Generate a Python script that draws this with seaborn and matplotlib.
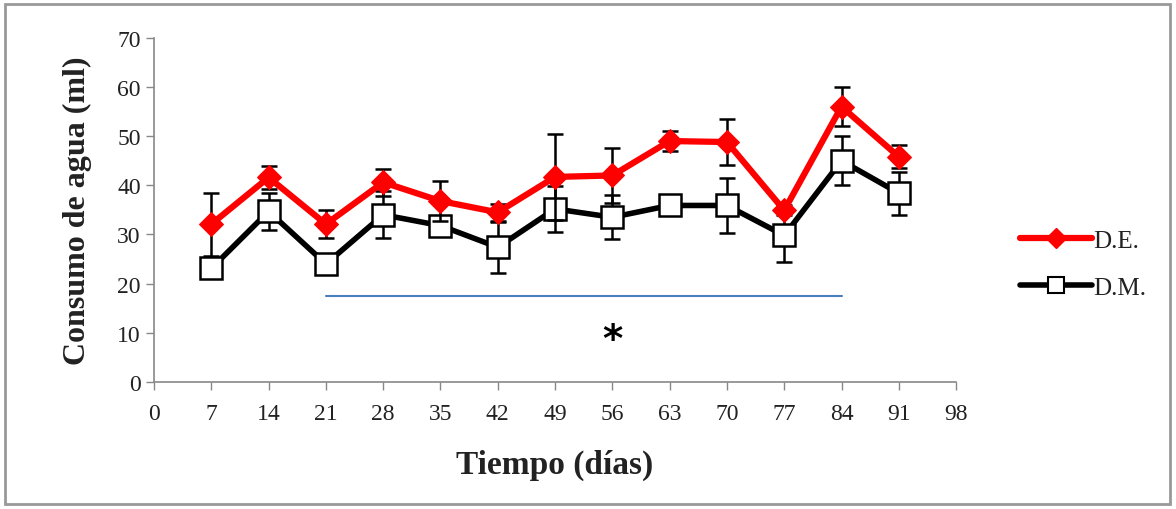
import matplotlib
matplotlib.use("Agg")
import matplotlib.pyplot as plt
import seaborn as sns
import pandas as pd
from matplotlib.patches import Rectangle
from matplotlib.lines import Line2D

days = [7, 14, 21, 28, 35, 42, 49, 56, 63, 70, 77, 84, 91]
de_mean = [32.1, 41.6, 32.1, 40.6, 36.8, 34.5, 41.7, 42.0, 49.0, 48.8, 34.9, 56.0, 45.8]
de_err = [6.4, 2.4, 2.8, 2.7, 4.1, 1.7, 8.8, 5.5, 2.1, 4.7, 1.0, 4.0, 2.3]
dm_mean = [23.1, 34.7, 24.0, 34.0, 31.8, 27.4, 35.2, 33.5, 35.9, 35.9, 29.8, 45.0, 38.4]
dm_err = [2.0, 3.7, 1.0, 4.8, 1.0, 5.2, 4.6, 4.5, 1.0, 5.5, 5.4, 5.0, 4.4]
x_ticks = list(range(0, 99, 7))
y_ticks = list(range(0, 71, 10))
bar_x = [21, 84]
bar_y = [17.5, 17.5]

sns.set_theme(style="white")
plt.rcParams['font.family'] = ['Liberation Serif', 'DejaVu Serif']

fig = plt.figure(figsize=(11.76, 5.10), dpi=100)
ax = fig.add_axes([0.131, 0.249, 0.682, 0.675])

df = pd.DataFrame({
    "day": days * 2,
    "val": dm_mean + de_mean,
    "grp": ["D.M."] * len(days) + ["D.E."] * len(days),
})

ax.errorbar(days, dm_mean, yerr=dm_err, fmt='none', ecolor='black',
            elinewidth=1.8, capsize=6, capthick=1.8, zorder=2)
sns.lineplot(data=df[df.grp == "D.M."], x="day", y="val", ax=ax, color='black',
             lw=4, marker='s', markersize=16, markerfacecolor='white',
             markeredgecolor='black', markeredgewidth=1.8, zorder=3, legend=False)
ax.errorbar(days, de_mean, yerr=de_err, fmt='none', ecolor='black',
            elinewidth=1.8, capsize=6, capthick=1.8, zorder=4)
sns.lineplot(data=df[df.grp == "D.E."], x="day", y="val", ax=ax, color='#ff0000',
             lw=4.5, marker='D', markersize=12.5, markerfacecolor='#ff0000',
             markeredgecolor='#ff0000', zorder=5, legend=False)

ax.plot(bar_x, bar_y, color='#4a7ebf', lw=1.5, zorder=1)
ax.text(56, 8.6, "*", fontsize=28, fontweight='bold', ha='center', va='center',
        family='DejaVu Sans', color='black')

ax.set_xlim(0, 98)
ax.set_ylim(0, 70)
ax.set_xticks(x_ticks)
ax.set_yticks(y_ticks)
ax.tick_params(axis='both', labelsize=17, length=6, width=1, color='#888888',
               direction='out', bottom=True, left=True, labelcolor='#222222')
ax.tick_params(axis='x', pad=9)
for s in ['top', 'right']:
    ax.spines[s].set_visible(False)
for s in ['left', 'bottom']:
    ax.spines[s].set_color('#888888')
    ax.spines[s].set_linewidth(1.2)

ax.set_xlabel("Tiempo (días)", fontsize=24, fontweight='bold', labelpad=18, color='#222222')
ax.set_ylabel("Consumo de agua (ml)", fontsize=23, fontweight='bold', labelpad=18, color='#222222')

h1 = Line2D([], [], color='#ff0000', lw=4.5, marker='D', markersize=10)
h2 = Line2D([], [], color='black', lw=4, marker='s', markersize=12,
            markerfacecolor='white', markeredgewidth=1.5)
fig.legend([h1, h2], ["D.E.", "D.M."], loc='center left',
           bbox_to_anchor=(0.848, 0.48), frameon=False, fontsize=18,
           handlelength=2.9, handletextpad=0.05, labelspacing=1.0,
           labelcolor='#222222')

fig.patches.append(Rectangle((0.004, 0.01), 0.991, 0.98, transform=fig.transFigure,
                             fill=False, edgecolor='#999999', lw=2))

fig.savefig("out.png", dpi=100)
